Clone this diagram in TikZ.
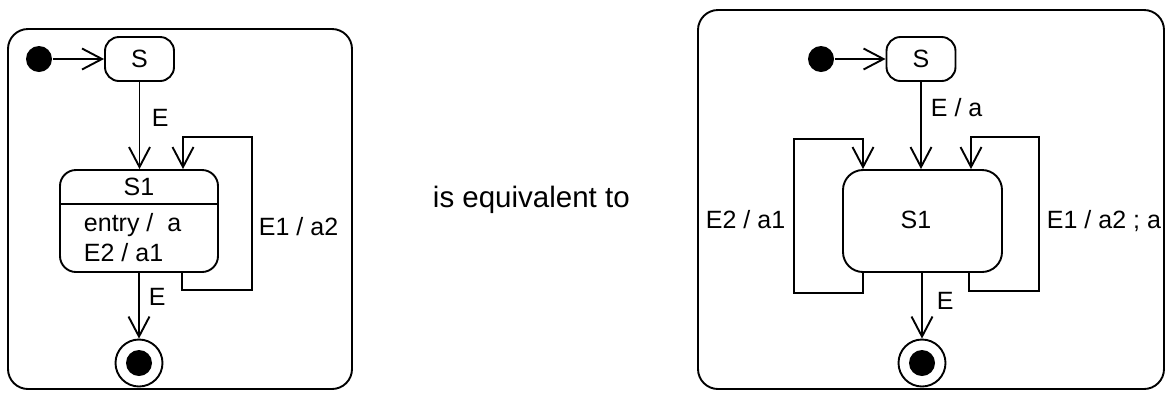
\documentclass[tikz,border=0pt]{standalone}
\usepackage{fontspec}
\setmainfont{Liberation Sans}
\usetikzlibrary{arrows.meta}
\begin{document}
\begin{tikzpicture}[x=1pt,y=-1pt,line width=1.9pt,
  tip/.style={-{Straight Barb[length=20pt,width=21pt]}},
  frame/.style={draw,rounded corners=20pt},
  smallstate/.style={draw,rounded corners=14pt,minimum width=69pt,minimum height=44pt,inner sep=0pt,font=\lbl},
  bigstate/.style={draw,minimum width=158pt,minimum height=102pt,inner sep=0pt},
  initdot/.style={circle,fill,minimum size=26pt,inner sep=0pt},
  finalring/.style={circle,draw,minimum size=47pt,inner sep=0pt},
  finaldot/.style={circle,fill,minimum size=26pt,inner sep=0pt},
  txt/.style={inner sep=0pt,anchor=base west,font=\lbl},
]
\providecommand\lbl{\fontsize{25}{30}\selectfont}
\useasboundingbox (0,0) rectangle (1166,392);

% ---------- left diagram ----------
\draw[frame] (8,29) rectangle (352,389);
\node[initdot] (i1) at (39,59) {};
\node[smallstate] (S) at (139.5,59) {S};
\node[bigstate,rounded corners=16pt] (S1) at (139,221) {};
\coordinate (sepL) at (0,204);
\draw (S1.west |- sepL) -- (S1.east |- sepL);
\node[inner sep=0pt,anchor=base,font=\lbl] (S1t) at (139,195) {S1};
\node[txt] (en) at (83,231) {entry /\ \ a};
\node[txt] (e2) at (83,261) {E2 / a1};
\node[finalring] (F1) at (139,363) {};
\node[finaldot] (F1d) at (F1) {};

\draw[tip] (i1) -- (S);
\draw[tip] (S.south) -- (S.south |- S1.north);
\node[txt] (lE1) at (151,126) {E};
\coordinate (la) at (182,0);
\coordinate (lb) at (252,290);
\coordinate (lc) at (183,137);
\draw[tip] (S1.south -| la) |- (lb) |- (lc) -- (lc |- S1.north);
\node[txt] (lE2) at (258,235) {E1 / a2};
\draw[tip] (S1.south -| F1) -- (F1.north);
\node[txt] (lE3) at (148,305) {E};

% ---------- middle text ----------
\node[inner sep=0pt,anchor=base west,font=\fontsize{29.5}{34}\selectfont] (eq) at (432,207) {is equivalent to};

% ---------- right diagram ----------
\draw[frame] (698,10) rectangle (1164,389);
\node[initdot] (i2) at (821,59) {};
\node[smallstate] (S2) at (921,59) {S};
\node[bigstate,minimum width=159pt,rounded corners=20pt] (S3) at (922.5,221) {};
\node[inner sep=0pt,anchor=base,font=\lbl] (S3t) at (916,228) {S1};
\node[finalring] (F2) at (922,363) {};
\node[finaldot] (F2d) at (F2) {};

\draw[tip] (i2) -- (S2);
\draw[tip] (S2.south) -- (S2.south |- S3.north);
\node[txt] (rE1) at (930,116) {E / a};
% left self loop
\coordinate (ra) at (863,0);
\coordinate (rb) at (794,293);
\coordinate (rc) at (863,139);
\draw[tip] (S3.south -| ra) |- (rb) |- (rc) -- (rc |- S3.north);
\node[txt] (rE2) at (705,228) {E2 / a1};
% right self loop
\coordinate (rd) at (969,0);
\coordinate (re) at (1039,291);
\coordinate (rf) at (971,137);
\draw[tip] (S3.south -| rd) |- (re) |- (rf) -- (rf |- S3.north);
\node[txt] (rE3) at (1046,228) {E1 / a2 ; a};
\draw[tip] (S3.south -| F2) -- (F2.north);
\node[txt] (rE4) at (936,309) {E};
\end{tikzpicture}
\end{document}
